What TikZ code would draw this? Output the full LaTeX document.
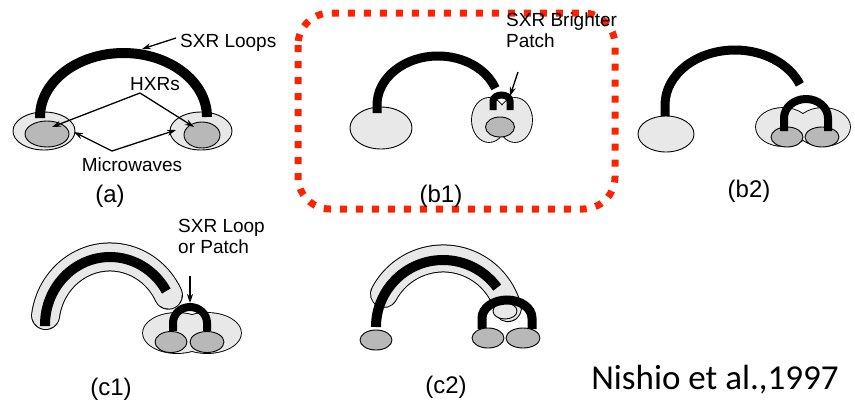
\documentclass[tikz,border=0pt]{standalone}
\usepackage{fontspec}
\setmainfont{Liberation Sans}
\newfontfamily\citefont{Carlito}
\usetikzlibrary{arrows.meta}
\definecolor{lightfill}{RGB}{232,232,232}
\definecolor{darkfill}{RGB}{184,184,184}
\definecolor{framered}{RGB}{255,34,0}
\begin{document}
\begin{tikzpicture}[x=1pt,y=-1pt,
  lbl/.style={font=\fontsize{19}{20.5}\selectfont, inner sep=0pt},
  panel/.style={font=\fontsize{24}{26}\selectfont, inner sep=0pt},
  outerfp/.style={fill=lightfill, draw=black, line width=0.9pt},
  innerfp/.style={fill=darkfill, draw=black, line width=0.9pt},
  bigloop/.style={line width=10pt, draw=black},
  smallloop/.style={line width=7.5pt, draw=black},
  pointer/.style={-{Stealth[length=9pt,width=6pt]}, line width=1.3pt},
  sleeveedge/.style={line width=29pt, line cap=round, draw=black},
  sleevefill/.style={line width=27pt, line cap=round, draw=lightfill},
]
\useasboundingbox (0,0) rectangle (855,413);

% ---------------- (a) ----------------
\path[outerfp] (44,131) ellipse[x radius=31pt, y radius=19pt];
\path[innerfp] (47,134) ellipse[x radius=22pt, y radius=13pt];
\path[outerfp] (201,131) ellipse[x radius=31pt, y radius=19pt];
\path[innerfp] (202,135) ellipse[x radius=18pt, y radius=13pt];
\draw[bigloop] (40,118) -- (40,117) arc[start angle=180, end angle=0, x radius=83.5pt, y radius=64pt];

\node[lbl, anchor=base west] (sxrA) at (180,47) {SXR Loops};
\node[lbl, anchor=base] (hxr) at (155,90) {HXRs};
\node[lbl, anchor=base] (mw) at (132,171) {Microwaves};
\node[panel, anchor=base] (labA) at (110,202) {(a)};
\coordinate (sxrAtail) at (176,38);
\coordinate (sxrAtip) at (142,49);
\coordinate (hxrfork) at (140,93);
\coordinate (hxrL) at (52,127);
\coordinate (hxrR) at (194,127);
\coordinate (mwfork) at (112,151);
\coordinate (mwL) at (74,132);
\coordinate (mwR) at (176,130);
\draw[pointer] (sxrAtail) -- (sxrAtip);
\draw[pointer] (hxrfork) -- (hxrL);
\draw[pointer] (hxrfork) -- (hxrR);
\draw[pointer] (mwfork) -- (mwL);
\draw[pointer] (mwfork) -- (mwR);

% ---------------- (b1) ----------------
\draw[framered, line width=7pt, dash pattern=on 7pt off 9pt, rounded corners=32pt]
  (298,13) rectangle (615,209);
\path[outerfp] (381,128) ellipse[x radius=31pt, y radius=21pt];
\draw[line width=1.8pt] (489,120) ellipse[x radius=17pt, y radius=22pt]
                        (515,120) ellipse[x radius=17pt, y radius=22pt];
\fill[lightfill] (489,120) ellipse[x radius=17pt, y radius=22pt]
                 (515,120) ellipse[x radius=17pt, y radius=22pt];
\path[innerfp] (500,127) ellipse[x radius=14.5pt, y radius=10pt];
\draw[bigloop, line width=9pt] (377,113) -- (377,105)
  arc[start angle=180, end angle=20, x radius=61pt, y radius=49pt];
\draw[smallloop, line width=7pt] (493,110) -- (493,101)
  arc[start angle=180, end angle=0, x radius=8.5pt, y radius=6pt] -- (510,110);

\node[lbl, anchor=base west, align=left] (sxrB) at (506,47) {SXR Brighter\\Patch};
\node[panel, anchor=base] (labB1) at (441,202) {(b1)};
\coordinate (patchtail) at (518,72);
\coordinate (patchtip) at (510,96);
\draw[pointer] (patchtail) -- (patchtip);

% ---------------- (b2) ----------------
\path[outerfp] (666,134) ellipse[x radius=28pt, y radius=18pt];
\draw[line width=1.8pt] (783,127) ellipse[x radius=27pt, y radius=19pt]
                        (823,127) ellipse[x radius=27pt, y radius=19pt];
\fill[lightfill] (783,127) ellipse[x radius=27pt, y radius=19pt]
                 (823,127) ellipse[x radius=27pt, y radius=19pt];
\path[innerfp] (787,137) ellipse[x radius=16pt, y radius=10pt];
\path[innerfp] (822,137) ellipse[x radius=17pt, y radius=10pt];
\draw[bigloop, line width=9pt] (665,116) -- (665,105)
  arc[start angle=180, end angle=22, x radius=70pt, y radius=55pt];
\draw[smallloop, line width=8pt] (784,131) -- (784,118)
  arc[start angle=180, end angle=0, x radius=22pt, y radius=19pt] -- (828,131);
\node[panel, anchor=base] (labB2) at (749,197) {(b2)};

% ---------------- (c1) ----------------
\draw[sleeveedge] (45.6,315.5) arc[start angle=172, end angle=26, x radius=65pt, y radius=68pt];
\draw[sleevefill] (45.6,315.5) arc[start angle=172, end angle=26, x radius=65pt, y radius=68pt];
\draw[bigloop] (45,326) -- (45,325) arc[start angle=180, end angle=30, x radius=65pt, y radius=68pt];
\draw[line width=1.8pt] (177,333) ellipse[x radius=34pt, y radius=20pt]
                        (207,333) ellipse[x radius=34pt, y radius=20pt];
\fill[lightfill] (177,333) ellipse[x radius=34pt, y radius=20pt]
                 (207,333) ellipse[x radius=34pt, y radius=20pt];
\draw[smallloop, line width=8pt] (173,331) -- (173,323)
  arc[start angle=180, end angle=0, x radius=17pt, y radius=16pt] -- (207,331);
\path[innerfp] (171,342) ellipse[x radius=16pt, y radius=10.5pt];
\path[innerfp] (207,342) ellipse[x radius=17pt, y radius=10.5pt];

\node[lbl, anchor=base west, align=left] (sxrC) at (178,253) {SXR Loop\\or Patch};
\node[panel, anchor=base] (labC1) at (111,395) {(c1)};
\coordinate (c1tail) at (190,276);
\coordinate (c1tip) at (190,303);
\draw[pointer] (c1tail) -- (c1tip);

% ---------------- (c2) ----------------
\draw[sleeveedge, line width=28pt] (384,294) arc[start angle=152, end angle=15, x radius=67pt, y radius=67pt];
\draw[sleevefill, line width=26pt] (384,294) arc[start angle=152, end angle=15, x radius=67pt, y radius=67pt];
\draw[bigloop] (376,327) arc[start angle=180, end angle=36, x radius=67pt, y radius=67pt];
\path[outerfp] (505,311) ellipse[x radius=12pt, y radius=8pt];
\draw[smallloop, line width=9pt] (482,329) -- (482,318)
  arc[start angle=180, end angle=0, x radius=25pt, y radius=18pt] -- (532,329);
\path[innerfp] (376,340) ellipse[x radius=16pt, y radius=10pt];
\path[innerfp] (488,338) ellipse[x radius=16pt, y radius=10pt];
\path[innerfp] (523,338) ellipse[x radius=17pt, y radius=10pt];
\node[panel, anchor=base] (labC2) at (446,393) {(c2)};

% ---------------- citation ----------------
\node[font=\citefont\fontsize{35}{38}\selectfont, inner sep=0pt, anchor=base] (cite) at (715,389) {Nishio et al.,1997};
\end{tikzpicture}
\end{document}
